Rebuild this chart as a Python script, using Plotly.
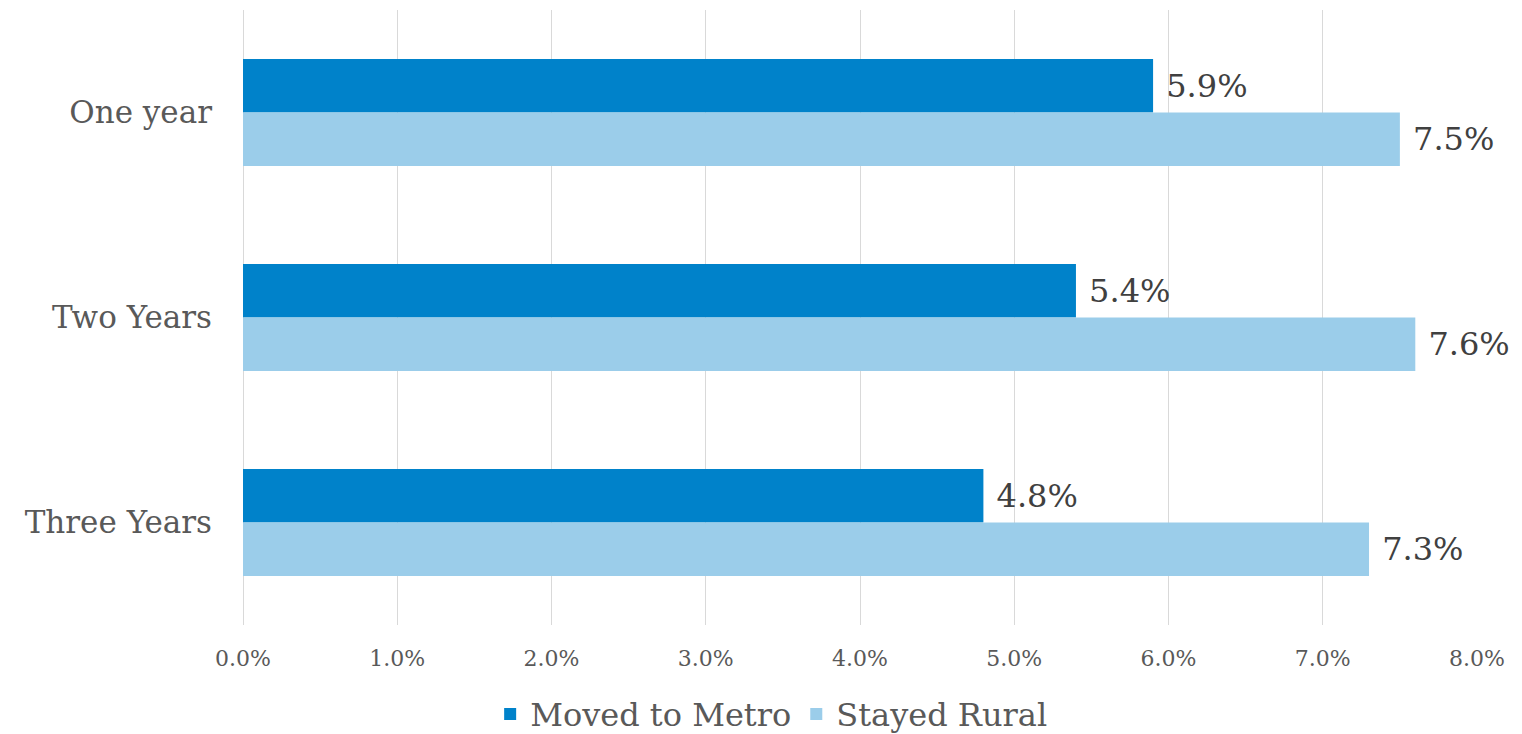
import plotly.graph_objects as go

categories = ["One year", "Two Years", "Three Years"]
moved_to_metro = [0.059, 0.054, 0.048]
stayed_rural = [0.075, 0.076, 0.073]
series_names = ["Moved to Metro", "Stayed Rural"]
tick_values = [0, 0.01, 0.02, 0.03, 0.04, 0.05, 0.06, 0.07, 0.08]

FONT = "Georgia, 'DejaVu Serif', serif"
colors = ["#0082CA", "#9BCDEA"]

fig = go.Figure()
for name, vals, col in zip(series_names, [moved_to_metro, stayed_rural], colors):
    fig.add_trace(go.Bar(
        y=categories, x=vals, name=name, orientation="h",
        marker=dict(color=col, line=dict(width=0)),
        texttemplate=" %{x:.1%}", textposition="outside",
        textfont=dict(family=FONT, size=32, color="#404040"),
        constraintext="none", cliponaxis=False,
    ))

# page body has an 8px margin, so the figure is sized/offset to compensate
fig.update_layout(
    width=1514, height=726, autosize=False,
    margin=dict(l=235, r=45, t=2, b=109, autoexpand=False),
    paper_bgcolor="white", plot_bgcolor="white",
    barmode="group", bargap=0.478, bargroupgap=0,
    font=dict(family=FONT, color="#595959"),
    legend=dict(orientation="h", x=0.428, xanchor="center",
                y=-0.145, yanchor="middle",
                font=dict(family=FONT, size=32, color="#595959"),
                traceorder="normal"),
    xaxis=dict(range=[0, 0.08], tickvals=tick_values, tickformat=".1%",
               showgrid=True, gridcolor="#D9D9D9", gridwidth=1.3,
               zeroline=True, zerolinecolor="#D9D9D9", zerolinewidth=1.3,
               showline=False, ticks="", automargin=False, tickangle=0,
               tickfont=dict(family=FONT, size=22, color="#595959"),
               ticklabelstandoff=18),
    yaxis=dict(autorange="reversed", showgrid=False, showline=False, ticks="",
               automargin=False,
               tickfont=dict(family=FONT, size=31, color="#595959"),
               ticklabelstandoff=30),
)

fig.write_html("out.html")
